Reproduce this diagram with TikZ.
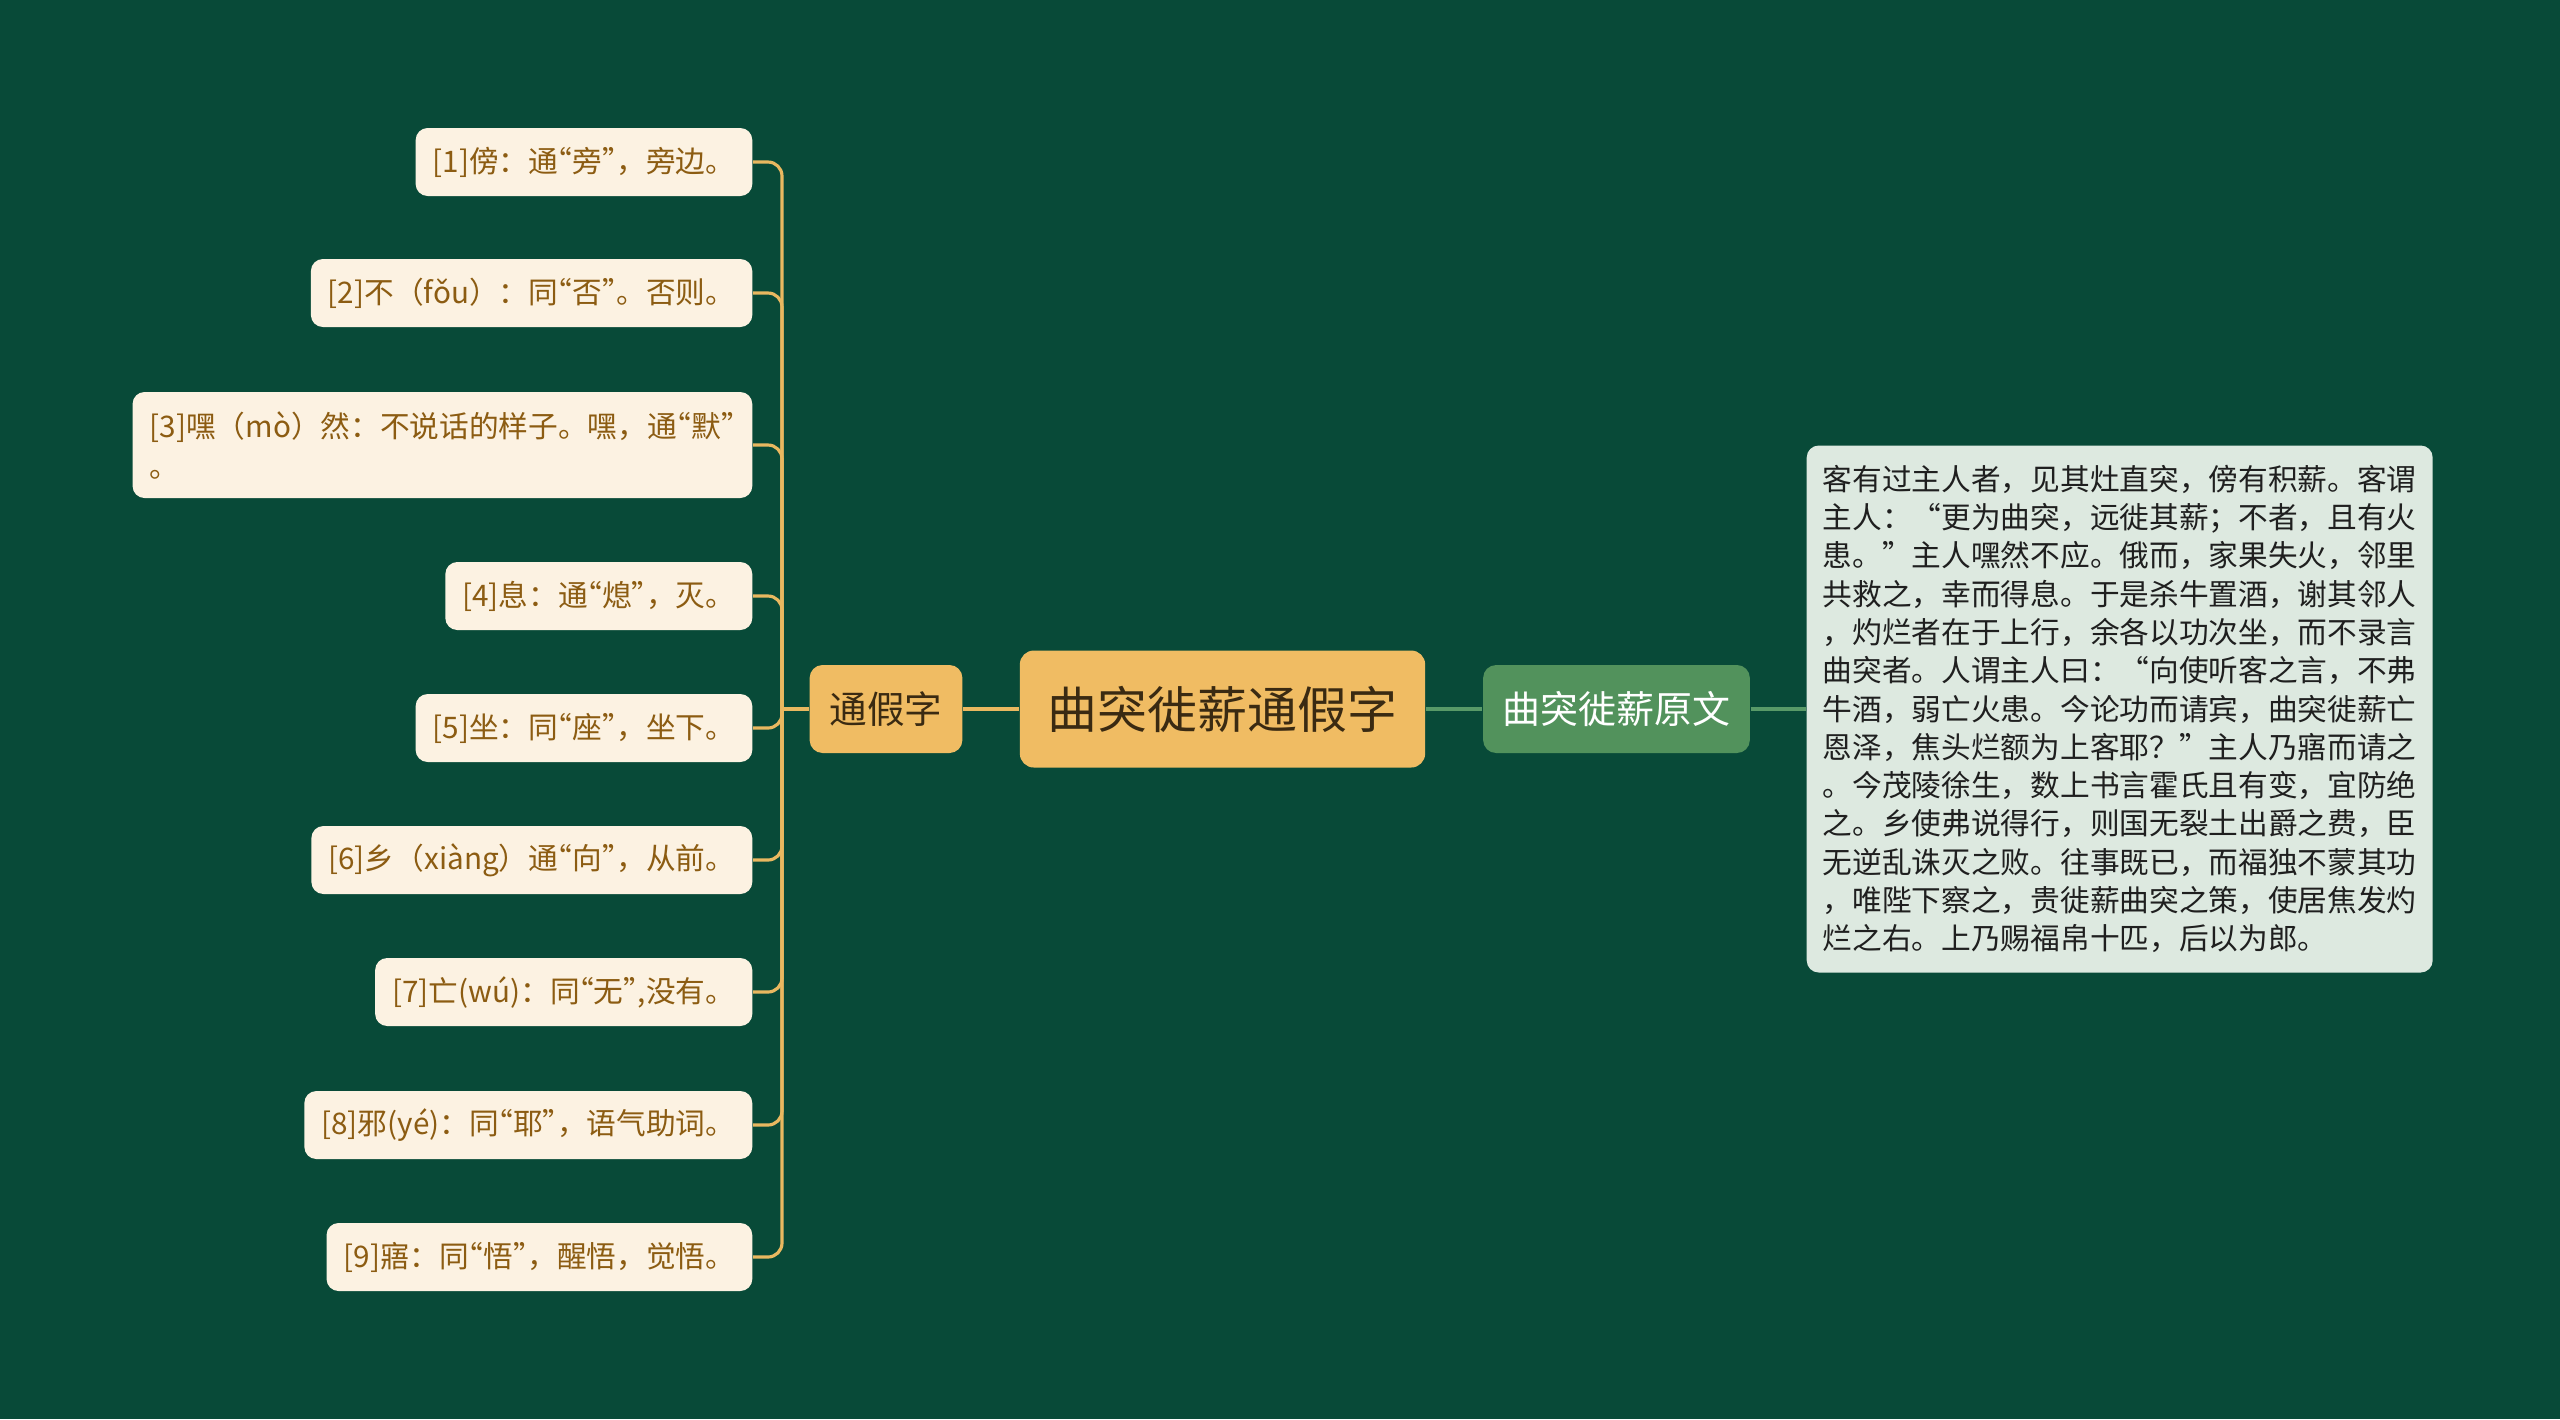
\documentclass[tikz,border=0pt]{standalone}
\usepackage{fontspec}
\setmainfont{Noto Sans CJK SC}
\usetikzlibrary{positioning}
\definecolor{bgdark}{RGB}{8, 74, 56}
\definecolor{goldfill}{RGB}{240, 188, 99}
\definecolor{goldline}{RGB}{233, 184, 96}
\definecolor{creamfill}{RGB}{252, 242, 226}
\definecolor{leafbrown}{RGB}{140, 92, 18}
\definecolor{rootbrown}{RGB}{58, 42, 18}
\definecolor{midgreen}{RGB}{82, 146, 92}
\definecolor{linegreen}{RGB}{88, 154, 104}
\definecolor{palegreen}{RGB}{221, 233, 224}
% 窄引号
\newcommand{\zqo}{\makebox[0.48em][r]{“}}
\newcommand{\zqc}{\makebox[0.48em][l]{”}}
\tikzset{
  leafbox/.style={fill=creamfill, text=leafbrown, rounded corners=0.12cm, anchor=east,
    inner xsep=0.17cm, inner ysep=0pt, minimum height=0.68cm, align=left,
    font=\fontsize{8.45}{11.4}\selectfont},
  rootbox/.style={fill=goldfill, text=rootbrown, rounded corners=0.14cm,
    inner xsep=0.28cm, minimum height=1.17cm, font=\fontsize{14.2}{16}\selectfont},
  subgold/.style={fill=goldfill, text=rootbrown, rounded corners=0.13cm,
    inner xsep=0.2cm, minimum height=0.88cm, font=\fontsize{10.7}{12}\selectfont},
  subgreen/.style={fill=midgreen, text=white, rounded corners=0.13cm,
    inner xsep=0.195cm, minimum height=0.88cm, font=\fontsize{10.8}{12}\selectfont},
  notebox/.style={fill=palegreen, text=black!88, rounded corners=0.12cm, anchor=west,
    inner xsep=0.16cm, inner ysep=0.18cm, minimum height=5.27cm, align=left,
    font=\fontsize{8.45}{10.9}\selectfont},
  goldlink/.style={draw=goldline, line width=0.9pt},
  greenlink/.style={draw=linegreen, line width=1.1pt}
}

\begin{document}
\begin{tikzpicture}[x=1cm, y=-1cm]
  % ===== 背景 =====
  \useasboundingbox (0,0) rectangle (25.6,14.19);
  \fill[bgdark] (0,0) rectangle (25.6,14.19);

  % 中心主题
  \node[rootbox] (root) at (12.225, 7.09) {曲突徙薪通假字};

  % 两个分支
  \node[subgold] (tongjia) at (8.86, 7.09) {通假字};
  \node[subgreen] (yuanwen) at (16.165, 7.09) {曲突徙薪原文};

  % 原文
  \node[notebox] (yuanwenbox) at (18.06, 7.09) {客有过主人者，见其灶直突，傍有积薪。客谓\\
    主人：“更为曲突，远徙其薪；不者，且有火\\
    患。”主人嘿然不应。俄而，家果失火，邻里\\
    共救之，幸而得息。于是杀牛置酒，谢其邻人\\
    ，灼烂者在于上行，余各以功次坐，而不录言\\
    曲突者。人谓主人曰：“向使听客之言，不弗\\
    牛酒，弱亡火患。今论功而请宾，曲突徙薪亡\\
    恩泽，焦头烂额为上客耶？”主人乃寤而请之\\
    。今茂陵徐生，数上书言霍氏且有变，宜防绝\\
    之。乡使弗说得行，则国无裂土出爵之费，臣\\
    无逆乱诛灭之败。往事既已，而福独不蒙其功\\
    ，唯陛下察之，贵徙薪曲突之策，使居焦发灼\\
    烂之右。上乃赐福帛十匹，后以为郎。};

  % 通假字注释
  \node[leafbox] (leaf1) at (7.53, 1.62) {[1]傍：通\zqo 旁\zqc，旁边。};
  \node[leafbox] (leaf2) at (7.53, 2.93) {[2]不（fǒu）：同\zqo 否\zqc。否则。};
  \node[leafbox, minimum height=1.06cm] (leaf3) at (7.53, 4.45) {[3]嘿（mò）然：不说话的样子。嘿，通\zqo 默\zqc\\。};
  \node[leafbox] (leaf4) at (7.53, 5.96) {[4]息：通\zqo 熄\zqc，灭。};
  \node[leafbox] (leaf5) at (7.53, 7.28) {[5]坐：同\zqo 座\zqc，坐下。};
  \node[leafbox] (leaf6) at (7.53, 8.60) {[6]乡（xiàng）通\zqo 向\zqc，从前。};
  \node[leafbox] (leaf7) at (7.53, 9.92) {[7]亡(wú)：同\zqo 无\zqc,没有。};
  \node[leafbox] (leaf8) at (7.53, 11.25) {[8]邪(yé)：同\zqo 耶\zqc，语气助词。};
  \node[leafbox] (leaf9) at (7.53, 12.57) {[9]寤：同\zqo 悟\zqc，醒悟，觉悟。};

  % 连线
  \draw[goldlink] (root.west) -- (tongjia.east);
  \draw[greenlink] (root.east) -- (yuanwen.west);
  \draw[greenlink] (yuanwen.east) -- (yuanwenbox.west);

  \coordinate (trunk) at (7.82, 7.09);
  \draw[goldlink] (tongjia.west) -- (trunk);
  \draw[goldlink, rounded corners=0.14cm] (trunk) |- (leaf1.east);
  \draw[goldlink, rounded corners=0.14cm] (trunk) |- (leaf2.east);
  \draw[goldlink, rounded corners=0.14cm] (trunk) |- (leaf3.east);
  \draw[goldlink, rounded corners=0.14cm] (trunk) |- (leaf4.east);
  \draw[goldlink, rounded corners=0.14cm] (trunk) |- (leaf5.east);
  \draw[goldlink, rounded corners=0.14cm] (trunk) |- (leaf6.east);
  \draw[goldlink, rounded corners=0.14cm] (trunk) |- (leaf7.east);
  \draw[goldlink, rounded corners=0.14cm] (trunk) |- (leaf8.east);
  \draw[goldlink, rounded corners=0.14cm] (trunk) |- (leaf9.east);
\end{tikzpicture}
\end{document}
